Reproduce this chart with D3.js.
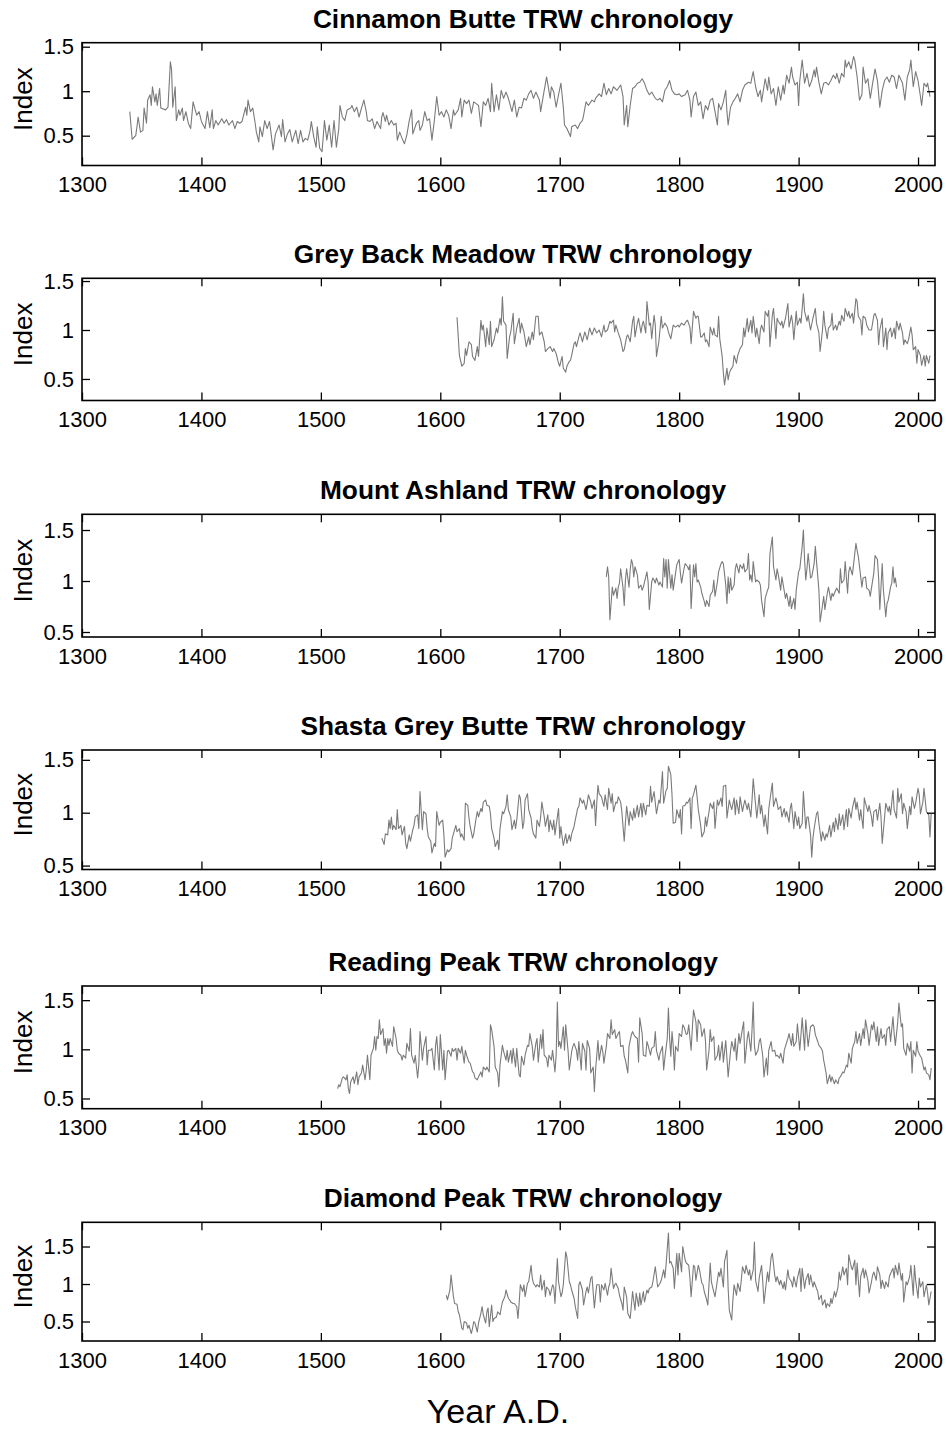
<!DOCTYPE html>
<html><head><meta charset="utf-8">
<script src="https://cdn.jsdelivr.net/npm/d3@7"></script>
<style>body{margin:0;background:#fff}svg{display:block}text{font-family:"Liberation Sans",Arial,Helvetica,sans-serif}</style>
</head><body>
<script>
const xTicks = [1300,1400,1500,1600,1700,1800,1900,2000];
const yTicks = [0.5,1,1.5];
const titles = ["Cinnamon Butte TRW chronology","Grey Back Meadow TRW chronology","Mount Ashland TRW chronology","Shasta Grey Butte TRW chronology","Reading Peak TRW chronology","Diamond Peak TRW chronology"];
const yLabel = "Index";
const xLabel = "Year A.D.";

const cinnamonButte = [[1340,.77],[1342,.46],[1345,.50],[1346,.60],[1347,.71],[1349,.54],[1351,.56],[1352,.81],[1354,.64],[1355,.90],[1357,.96],[1358,.84],[1359,1.05],[1361,.88],[1362,.97],[1363,.84],[1365,1.03],[1366,.81],[1370,.79],[1372,.82],[1374,1.33],[1375,1.24],[1376,.82],[1378,1.05],[1379,.67],[1381,.79],[1382,.73],[1384,.81],[1385,.67],[1387,.77],[1389,.64],[1391,.58],[1393,.88],[1396,.73],[1398,.77],[1400,.66],[1403,.58],[1405,.77],[1407,.59],[1409,.79],[1410,.58],[1412,.67],[1414,.62],[1417,.69],[1419,.64],[1421,.68],[1423,.62],[1426,.67],[1428,.58],[1430,.66],[1432,.64],[1434,.66],[1437,.82],[1438,.73],[1439,.90],[1441,.77],[1443,.81],[1445,.64],[1446,.54],[1448,.43],[1449,.60],[1451,.49],[1453,.67],[1455,.58],[1457,.66],[1458,.56],[1460,.34],[1462,.52],[1465,.62],[1467,.49],[1468,.68],[1470,.43],[1472,.52],[1474,.57],[1476,.43],[1479,.56],[1481,.41],[1483,.56],[1485,.43],[1487,.47],[1489,.45],[1491,.56],[1492,.66],[1494,.49],[1496,.37],[1497,.60],[1499,.36],[1501,.32],[1503,.67],[1505,.45],[1507,.62],[1509,.37],[1511,.67],[1513,.37],[1515,.58],[1516,.84],[1518,.71],[1520,.67],[1522,.79],[1525,.81],[1526,.84],[1528,.77],[1530,.82],[1532,.71],[1534,.81],[1536,.90],[1538,.77],[1539,.67],[1541,.66],[1543,.69],[1545,.58],[1547,.66],[1550,.58],[1551,.71],[1552,.76],[1554,.66],[1555,.73],[1557,.62],[1559,.67],[1561,.62],[1563,.64],[1564,.45],[1566,.54],[1568,.47],[1570,.41],[1572,.51],[1574,.67],[1576,.79],[1577,.52],[1580,.64],[1582,.67],[1583,.56],[1585,.62],[1587,.77],[1589,.67],[1591,.69],[1593,.45],[1595,.67],[1597,.94],[1599,.73],[1601,.77],[1603,.71],[1605,.79],[1607,.73],[1609,.58],[1611,.79],[1612,.73],[1615,.79],[1617,.92],[1618,.71],[1620,.90],[1622,.86],[1624,.90],[1626,.75],[1628,.88],[1630,.86],[1632,.84],[1634,.60],[1636,.88],[1638,.84],[1640,.92],[1642,.77],[1643,1.09],[1645,.77],[1647,.96],[1649,.79],[1651,1.01],[1653,.92],[1655,.99],[1657,.92],[1660,.77],[1662,.90],[1664,.71],[1666,.82],[1668,.81],[1670,.92],[1672,.90],[1674,.97],[1676,1.01],[1678,.92],[1680,.99],[1683,.90],[1684,.77],[1687,1.01],[1689,1.16],[1692,.92],[1693,1.05],[1695,.99],[1697,.82],[1699,.96],[1701,1.09],[1703,.82],[1704,.62],[1706,.58],[1709,.49],[1710,.60],[1713,.62],[1715,.58],[1717,.64],[1719,.67],[1720,.73],[1722,.88],[1724,.84],[1727,.90],[1729,.88],[1730,.92],[1733,.97],[1735,.94],[1737,1.09],[1739,.96],[1741,1.03],[1743,.97],[1745,1.05],[1748,1.01],[1751,1.07],[1753,.94],[1754,.62],[1756,.84],[1757,.60],[1759,.84],[1761,1.03],[1763,1.05],[1765,1.09],[1767,1.10],[1769,1.14],[1771,1.09],[1773,1.01],[1775,.96],[1777,.99],[1780,.92],[1782,.90],[1784,.92],[1786,.88],[1788,1.01],[1790,1.05],[1792,1.12],[1794,1.01],[1796,.97],[1798,.96],[1800,.97],[1802,.94],[1805,.96],[1807,1.01],[1809,.90],[1810,.71],[1812,.94],[1814,.99],[1816,.84],[1818,.88],[1820,.69],[1822,.84],[1824,.79],[1826,.90],[1828,.92],[1830,.77],[1832,.62],[1833,.86],[1835,.79],[1837,.88],[1839,1.01],[1840,.77],[1841,.62],[1843,.82],[1845,.88],[1847,.92],[1849,.97],[1851,.88],[1853,1.01],[1855,1.07],[1858,1.10],[1860,1.09],[1861,1.16],[1862,1.22],[1864,1.05],[1866,.94],[1868,1.01],[1869,.88],[1872,1.14],[1874,1.01],[1875,1.16],[1877,.97],[1879,1.03],[1881,.84],[1883,1.05],[1885,.90],[1887,1.07],[1888,.97],[1890,1.18],[1892,1.09],[1894,1.27],[1895,1.16],[1897,1.07],[1899,1.10],[1900,.84],[1901,1.12],[1903,1.35],[1905,1.09],[1907,1.20],[1909,1.05],[1911,1.12],[1913,1.24],[1914,1.16],[1915,1.27],[1917,1.10],[1919,.97],[1921,1.09],[1923,1.10],[1925,1.07],[1927,1.12],[1929,1.18],[1931,1.14],[1932,1.20],[1934,1.09],[1936,1.20],[1938,1.16],[1939,1.35],[1940,1.27],[1942,1.33],[1944,1.25],[1946,1.39],[1947,1.35],[1949,1.16],[1951,.90],[1953,.96],[1954,1.27],[1956,1.09],[1958,1.14],[1960,.92],[1962,1.09],[1964,1.25],[1966,1.12],[1968,.82],[1970,1.01],[1972,1.12],[1974,1.16],[1976,1.10],[1978,1.18],[1980,1.16],[1982,1.03],[1984,1.18],[1987,1.09],[1989,.90],[1991,1.16],[1993,1.24],[1994,1.35],[1996,1.05],[1998,1.22],[2000,1.12],[2002,.94],[2003,.84],[2005,1.09],[2007,1.05],[2008,1.09],[2010,.94]];

const greyBackMeadow = [[1614,1.13],[1616,.74],[1618,.63],[1620,.66],[1621,.81],[1622,.74],[1624,.88],[1626,.85],[1627,.73],[1629,.69],[1631,.83],[1632,.73],[1634,1.10],[1635,1.00],[1636,1.05],[1638,.83],[1639,1.02],[1641,.85],[1642,1.09],[1643,.83],[1645,.90],[1647,1.02],[1648,.97],[1650,1.12],[1651,1.05],[1652,1.34],[1653,1.09],[1655,1.05],[1656,.71],[1658,.93],[1659,.98],[1661,1.17],[1662,.86],[1664,1.02],[1666,1.12],[1667,.97],[1668,1.07],[1670,.98],[1672,.83],[1674,.93],[1675,.85],[1677,.98],[1678,.90],[1680,1.14],[1682,1.14],[1683,.95],[1685,.98],[1687,.88],[1688,.78],[1690,.81],[1692,.83],[1694,.78],[1695,.81],[1697,.76],[1699,.66],[1700,.63],[1702,.73],[1703,.61],[1705,.57],[1706,.63],[1708,.68],[1709,.69],[1710,.74],[1712,.86],[1713,.88],[1714,.83],[1716,.93],[1717,.97],[1719,.88],[1720,.93],[1721,.98],[1723,.90],[1725,1.02],[1727,.95],[1729,1.02],[1731,.97],[1733,1.00],[1735,.93],[1737,1.05],[1738,.98],[1740,1.00],[1742,1.09],[1743,1.07],[1745,1.10],[1746,.98],[1747,1.05],[1749,.97],[1751,.90],[1753,.78],[1754,.80],[1756,.93],[1757,.95],[1759,.88],[1761,1.09],[1762,1.14],[1763,.93],[1765,1.07],[1766,1.12],[1768,.97],[1769,1.05],[1770,1.09],[1772,.97],[1773,1.29],[1775,1.05],[1776,1.07],[1777,.91],[1779,1.15],[1780,1.05],[1781,.73],[1783,.88],[1785,1.14],[1786,1.02],[1788,1.07],[1790,1.03],[1791,.98],[1793,.91],[1795,1.05],[1797,1.03],[1799,1.05],[1800,1.03],[1802,1.07],[1804,1.05],[1806,1.09],[1807,1.10],[1809,1.03],[1810,.86],[1812,1.19],[1814,1.12],[1815,1.14],[1816,1.14],[1818,.93],[1819,.93],[1821,.97],[1822,.88],[1823,.90],[1825,.83],[1826,1.03],[1828,.95],[1829,1.02],[1830,.95],[1832,.93],[1833,1.14],[1834,.91],[1836,.73],[1837,.56],[1838,.44],[1840,.61],[1841,.49],[1842,.56],[1843,.59],[1845,.63],[1846,.74],[1848,.66],[1849,.74],[1851,.81],[1853,.85],[1854,1.02],[1855,.93],[1857,1.12],[1858,.98],[1860,1.10],[1861,.97],[1862,1.14],[1864,.93],[1865,1.02],[1867,.86],[1868,1.00],[1869,1.05],[1871,.98],[1872,1.19],[1874,1.14],[1875,1.20],[1876,.83],[1878,1.15],[1879,1.22],[1881,.91],[1882,1.12],[1883,1.09],[1885,1.05],[1886,1.09],[1887,1.02],[1889,1.12],[1891,1.27],[1892,1.03],[1894,1.15],[1895,1.07],[1896,.90],[1898,1.19],[1899,1.05],[1901,1.12],[1902,1.07],[1904,1.37],[1905,1.19],[1907,1.09],[1908,1.15],[1909,1.07],[1910,1.00],[1912,1.12],[1914,1.22],[1915,1.07],[1917,.97],[1918,.78],[1920,1.00],[1921,1.19],[1922,1.05],[1924,.91],[1925,1.02],[1927,1.05],[1928,1.17],[1929,1.00],[1931,1.05],[1932,1.00],[1934,1.09],[1935,1.05],[1936,1.15],[1938,1.09],[1939,1.22],[1941,1.14],[1942,1.19],[1943,1.12],[1945,1.17],[1946,1.07],[1948,1.32],[1949,1.29],[1950,1.14],[1952,1.10],[1953,.95],[1954,1.14],[1956,1.12],[1957,1.05],[1959,1.00],[1960,1.00],[1961,1.00],[1963,1.15],[1964,1.17],[1966,1.10],[1967,.85],[1968,1.00],[1970,1.12],[1971,.83],[1973,1.02],[1974,.80],[1975,.97],[1977,1.02],[1978,.93],[1980,1.02],[1981,.91],[1982,1.09],[1984,1.00],[1985,1.07],[1987,.97],[1988,.85],[1989,.90],[1991,.86],[1992,.90],[1994,1.03],[1995,.95],[1996,.80],[1998,.83],[1999,.66],[2000,.80],[2002,.74],[2003,.64],[2005,.74],[2006,.63],[2007,.74],[2009,.66],[2010,.74]];

const mountAshland = [[1739,1.04],[1740,1.14],[1741,1.04],[1742,.62],[1744,.94],[1745,.86],[1747,.93],[1748,.83],[1749,.94],[1750,.98],[1751,1.12],[1753,.93],[1754,.76],[1755,1.01],[1756,1.12],[1758,.94],[1759,1.11],[1760,1.21],[1761,1.17],[1762,1.04],[1763,1.14],[1765,1.06],[1766,.93],[1768,.96],[1769,.91],[1770,.94],[1772,1.04],[1773,1.09],[1774,.99],[1775,.72],[1777,.99],[1778,1.03],[1779,1.01],[1780,.98],[1781,1.03],[1783,.96],[1784,.99],[1786,.94],[1787,1.22],[1788,1.04],[1789,1.21],[1790,.93],[1791,1.21],[1793,.93],[1794,1.06],[1795,.91],[1797,1.08],[1798,1.16],[1800,1.21],[1801,1.08],[1802,.98],[1804,1.12],[1805,1.17],[1807,1.14],[1808,1.11],[1809,1.16],[1810,.73],[1812,1.16],[1813,1.04],[1814,1.17],[1815,.99],[1816,1.01],[1818,.94],[1819,.88],[1821,.80],[1822,.75],[1823,.81],[1825,.75],[1826,.86],[1828,.90],[1829,1.01],[1830,.85],[1832,.99],[1833,1.09],[1835,1.17],[1836,1.19],[1837,1.17],[1839,.96],[1840,.78],[1841,1.04],[1842,.88],[1843,1.03],[1844,.91],[1846,.96],[1847,1.12],[1848,1.17],[1850,1.08],[1851,1.16],[1853,1.12],[1854,1.17],[1855,1.09],[1857,1.12],[1858,1.27],[1859,1.01],[1860,1.06],[1861,.99],[1862,1.19],[1864,.99],[1865,1.01],[1867,.99],[1868,.96],[1869,.81],[1871,.65],[1872,.83],[1874,.91],[1875,.94],[1876,1.27],[1878,1.43],[1879,1.14],[1881,1.01],[1882,1.12],[1883,1.06],[1885,.91],[1886,1.04],[1888,.90],[1889,.83],[1890,.88],[1892,.75],[1893,.85],[1894,.73],[1896,.83],[1897,.72],[1898,.91],[1900,1.09],[1901,1.12],[1903,1.34],[1904,1.50],[1905,1.21],[1906,1.01],[1907,1.12],[1908,1.27],[1910,1.03],[1911,1.04],[1913,1.17],[1914,1.34],[1915,1.19],[1917,.91],[1918,.60],[1920,.76],[1921,.85],[1922,.72],[1924,.88],[1925,.94],[1927,.81],[1928,.88],[1929,.85],[1931,.91],[1932,.93],[1934,.88],[1935,1.12],[1936,.98],[1938,1.01],[1939,1.19],[1941,.88],[1942,1.09],[1943,1.14],[1945,1.06],[1946,1.16],[1948,1.37],[1949,1.30],[1950,1.24],[1952,1.04],[1953,.94],[1954,1.03],[1956,1.04],[1957,.93],[1959,.91],[1960,.85],[1961,.93],[1963,1.08],[1964,1.25],[1966,1.21],[1967,1.03],[1968,.72],[1970,1.17],[1971,.91],[1973,.65],[1974,.78],[1975,.81],[1977,.94],[1978,.98],[1979,1.14],[1980,.98],[1981,1.03],[1982,.94]];

const shastaGreyButte = [[1551,.76],[1553,.70],[1554,.80],[1556,.79],[1557,.93],[1558,.85],[1559,.96],[1560,.84],[1561,.88],[1563,.84],[1564,1.03],[1565,.85],[1567,.88],[1568,.79],[1570,.87],[1571,.71],[1572,.66],[1574,.79],[1575,.73],[1577,.84],[1578,.88],[1579,.96],[1581,.98],[1582,.85],[1583,1.20],[1585,.84],[1586,1.01],[1588,.99],[1589,.85],[1590,.77],[1592,.73],[1593,.62],[1595,.71],[1596,.68],[1597,1.01],[1599,.88],[1600,.91],[1602,.93],[1603,.79],[1604,.58],[1606,.65],[1607,.63],[1609,.66],[1610,.76],[1611,.80],[1613,.88],[1614,.82],[1616,.85],[1617,.77],[1618,.80],[1620,.74],[1621,1.09],[1623,1.07],[1624,.95],[1625,.87],[1627,.76],[1628,.80],[1630,.95],[1631,1.01],[1632,.96],[1634,1.04],[1635,1.01],[1636,1.10],[1638,1.12],[1639,1.07],[1641,1.06],[1642,.99],[1643,.85],[1645,.76],[1646,.68],[1648,.74],[1649,.65],[1650,.85],[1652,1.01],[1653,.99],[1655,1.06],[1656,1.17],[1657,1.03],[1659,.96],[1660,.84],[1662,.93],[1663,.85],[1664,.93],[1666,1.17],[1667,1.14],[1669,.85],[1670,.91],[1671,1.12],[1673,1.18],[1674,1.03],[1676,.95],[1677,.85],[1678,.80],[1680,.76],[1681,.93],[1683,.87],[1684,.96],[1685,1.10],[1687,.96],[1688,.87],[1690,.98],[1691,.82],[1692,.93],[1694,.84],[1695,.93],[1696,.79],[1698,.96],[1699,1.04],[1700,.76],[1701,.87],[1702,.77],[1703,.69],[1705,.80],[1706,.71],[1708,.79],[1709,.73],[1710,.80],[1712,.87],[1713,.93],[1715,1.04],[1716,1.06],[1717,1.14],[1719,1.09],[1720,1.12],[1722,1.03],[1723,1.09],[1724,1.17],[1726,1.10],[1727,1.04],[1729,1.12],[1730,.88],[1731,1.09],[1732,1.26],[1733,1.18],[1735,1.15],[1736,1.10],[1737,1.06],[1738,1.17],[1740,1.03],[1741,1.23],[1743,1.09],[1744,1.18],[1745,1.01],[1747,1.10],[1748,1.09],[1749,1.15],[1751,1.10],[1752,1.01],[1754,.73],[1755,.91],[1756,1.06],[1758,.88],[1759,1.01],[1761,.93],[1762,1.04],[1763,.95],[1765,1.07],[1766,.96],[1768,1.09],[1769,.96],[1770,1.09],[1772,.98],[1773,1.07],[1775,1.06],[1776,1.25],[1777,1.10],[1779,1.20],[1781,.99],[1783,1.12],[1784,1.09],[1786,1.39],[1787,1.09],[1789,1.21],[1790,1.23],[1791,1.44],[1793,1.36],[1794,1.17],[1795,.90],[1797,.91],[1798,1.03],[1800,.95],[1801,1.03],[1802,.80],[1803,1.06],[1805,1.07],[1806,1.10],[1807,1.09],[1809,1.14],[1810,.85],[1811,1.14],[1812,1.17],[1814,1.26],[1815,1.15],[1816,1.03],[1818,.88],[1819,.77],[1821,.82],[1822,.96],[1823,.87],[1825,1.01],[1826,1.09],[1828,1.04],[1829,1.10],[1830,.85],[1832,1.12],[1833,1.07],[1835,1.14],[1836,1.06],[1837,1.25],[1839,1.26],[1840,.95],[1842,1.12],[1843,1.07],[1844,1.03],[1846,1.14],[1847,.98],[1848,1.12],[1850,.99],[1851,1.15],[1853,1.01],[1854,1.07],[1855,1.12],[1857,1.03],[1858,1.09],[1860,.96],[1861,1.12],[1862,1.32],[1864,1.07],[1865,.95],[1867,1.17],[1868,.99],[1869,1.07],[1871,.87],[1872,.98],[1874,.80],[1875,1.03],[1876,1.12],[1878,1.28],[1879,1.06],[1881,1.14],[1882,1.09],[1883,1.03],[1885,1.06],[1886,.96],[1888,1.04],[1889,.96],[1890,1.01],[1892,.91],[1893,1.04],[1894,1.09],[1896,.85],[1897,1.01],[1899,.88],[1900,.96],[1901,.85],[1903,.90],[1904,1.20],[1906,.85],[1907,.96],[1908,.96],[1910,.79],[1911,.58],[1912,.76],[1913,.85],[1915,.99],[1916,1.01],[1917,.90],[1919,.73],[1920,.82],[1922,.74],[1923,.80],[1924,.77],[1926,.88],[1927,.77],[1929,.91],[1930,.82],[1931,.95],[1933,.84],[1934,.99],[1935,.88],[1937,.98],[1938,.84],[1940,1.03],[1941,.87],[1942,1.04],[1944,.95],[1945,1.04],[1947,1.14],[1948,1.03],[1949,1.10],[1951,.93],[1952,1.03],[1954,.85],[1955,1.14],[1956,1.09],[1958,1.01],[1959,1.07],[1961,.96],[1962,.87],[1963,1.01],[1965,1.03],[1966,.93],[1968,1.09],[1969,.96],[1970,.71],[1972,.96],[1973,1.09],[1975,1.01],[1976,1.06],[1977,.98],[1979,1.21],[1980,1.03],[1982,.95],[1983,1.23],[1984,1.10],[1986,1.18],[1987,.99],[1988,1.09],[1990,1.01],[1991,.85],[1993,1.06],[1994,.98],[1995,1.15],[1997,1.04],[1998,1.09],[2000,1.23],[2001,1.17],[2002,.99],[2004,1.10],[2005,1.23],[2006,1.12],[2007,1.01],[2009,.98],[2010,.77],[2011,.99]];

const readingPeak = [[1514,.60],[1515,.64],[1516,.62],[1518,.71],[1519,.72],[1521,.69],[1522,.74],[1523,.60],[1524,.55],[1525,.67],[1527,.72],[1528,.65],[1530,.77],[1531,.64],[1532,.72],[1534,.76],[1535,.84],[1537,.69],[1538,.79],[1539,.94],[1541,.69],[1542,.94],[1544,1.01],[1545,1.13],[1546,.99],[1547,1.13],[1548,1.11],[1549,1.30],[1550,1.15],[1552,1.21],[1553,1.04],[1554,1.11],[1555,.96],[1556,1.11],[1557,1.04],[1558,1.11],[1560,1.03],[1561,1.23],[1563,1.11],[1564,.99],[1565,.96],[1567,.94],[1568,.89],[1569,.94],[1571,.91],[1572,1.06],[1574,.98],[1575,1.21],[1576,.94],[1578,.86],[1579,.94],[1581,.71],[1582,.84],[1583,1.18],[1585,.89],[1586,1.01],[1588,1.13],[1589,.84],[1590,.99],[1592,.99],[1593,1.01],[1595,.79],[1596,1.03],[1597,1.13],[1599,.79],[1600,1.15],[1602,.79],[1603,.99],[1604,.69],[1606,.98],[1607,.99],[1609,.93],[1610,1.01],[1611,.98],[1613,1.01],[1614,.89],[1615,1.01],[1617,.96],[1618,1.03],[1620,.86],[1621,.99],[1622,.94],[1624,.87],[1625,.86],[1627,.77],[1628,.76],[1629,.71],[1631,.69],[1632,.72],[1634,.77],[1635,.72],[1636,.82],[1638,.79],[1639,.82],[1641,.77],[1642,1.25],[1643,1.20],[1645,1.03],[1646,.82],[1648,.76],[1649,.62],[1650,.84],[1652,1.04],[1653,.98],[1655,.89],[1656,.99],[1657,.87],[1659,.99],[1660,.86],[1661,1.01],[1663,.82],[1664,1.01],[1666,.74],[1667,.72],[1668,.93],[1670,.84],[1671,.94],[1673,1.04],[1674,1.03],[1675,1.16],[1677,1.03],[1678,.89],[1680,1.06],[1681,1.11],[1682,.87],[1684,1.15],[1685,1.01],[1686,1.20],[1687,.94],[1689,.91],[1690,.82],[1691,.94],[1693,.89],[1694,.99],[1696,.77],[1697,.94],[1698,1.48],[1699,1.03],[1700,1.08],[1701,1.01],[1703,1.23],[1704,.99],[1705,1.25],[1707,.98],[1708,.79],[1710,.98],[1711,1.03],[1712,1.06],[1714,.99],[1715,.89],[1716,1.08],[1718,.79],[1719,1.06],[1721,.98],[1722,.79],[1723,1.09],[1725,1.01],[1726,.76],[1728,.82],[1729,.57],[1730,.79],[1732,1.09],[1733,.89],[1735,1.04],[1736,.98],[1737,.86],[1739,1.03],[1740,1.16],[1742,1.11],[1743,1.30],[1744,1.15],[1746,1.20],[1747,1.11],[1749,1.16],[1750,1.18],[1751,1.03],[1753,1.04],[1754,.93],[1755,.89],[1757,.76],[1758,1.03],[1760,1.15],[1761,1.18],[1762,1.15],[1763,1.13],[1765,1.11],[1766,.87],[1767,1.32],[1769,1.16],[1770,.94],[1772,.93],[1773,1.08],[1774,1.04],[1776,.94],[1777,1.01],[1779,1.03],[1780,1.18],[1781,.99],[1783,.89],[1784,.96],[1786,1.03],[1787,.79],[1788,.91],[1790,1.11],[1791,1.42],[1792,1.11],[1793,.93],[1794,1.18],[1795,1.04],[1796,.79],[1797,1.03],[1799,.98],[1800,1.16],[1802,1.13],[1803,1.25],[1804,1.23],[1806,1.15],[1807,1.16],[1808,1.25],[1810,.99],[1811,1.21],[1812,1.40],[1814,1.28],[1815,1.08],[1816,1.30],[1818,1.25],[1819,1.13],[1821,1.21],[1822,1.09],[1823,.79],[1825,.99],[1826,1.20],[1827,1.08],[1829,1.13],[1830,.89],[1832,.94],[1833,1.04],[1834,.89],[1836,1.08],[1837,.87],[1839,1.09],[1840,.91],[1841,.72],[1843,.98],[1844,1.08],[1846,.98],[1847,1.11],[1848,.89],[1850,1.16],[1851,1.06],[1853,1.21],[1854,1.28],[1855,.86],[1857,1.11],[1858,1.18],[1860,.98],[1861,1.20],[1862,1.48],[1863,1.04],[1864,.94],[1866,.99],[1867,1.08],[1868,1.11],[1870,.93],[1871,.72],[1873,.91],[1874,.74],[1875,.99],[1877,1.08],[1878,.98],[1880,.99],[1881,.93],[1882,.94],[1884,.91],[1885,.96],[1887,.86],[1888,.99],[1889,1.03],[1891,1.11],[1892,1.16],[1894,1.04],[1895,1.16],[1896,1.03],[1898,1.08],[1899,1.26],[1901,.99],[1902,1.15],[1903,1.32],[1905,.99],[1906,1.30],[1908,1.03],[1909,1.13],[1910,1.23],[1912,1.25],[1913,1.23],[1914,1.15],[1916,1.08],[1917,1.04],[1919,1.01],[1920,.98],[1921,.89],[1923,.76],[1924,.65],[1926,.74],[1927,.67],[1928,.72],[1930,.65],[1931,.69],[1933,.65],[1934,.71],[1935,.72],[1937,.77],[1938,.76],[1940,.84],[1941,.82],[1942,.96],[1944,.86],[1945,1.01],[1947,1.08],[1948,1.18],[1949,1.06],[1951,1.16],[1952,1.04],[1954,1.21],[1955,1.11],[1956,1.30],[1958,1.16],[1959,1.04],[1961,1.25],[1962,1.20],[1963,1.28],[1965,1.08],[1966,1.23],[1967,1.04],[1969,1.21],[1970,1.11],[1972,1.15],[1973,1.04],[1974,1.20],[1976,1.23],[1977,1.08],[1979,1.33],[1980,1.16],[1981,1.04],[1983,1.28],[1984,1.47],[1986,1.23],[1987,1.26],[1988,1.01],[1990,.94],[1991,1.06],[1993,.98],[1994,1.08],[1995,.76],[1996,.99],[1998,.93],[1999,1.08],[2000,.98],[2002,.93],[2003,.91],[2005,.79],[2006,.82],[2007,.76],[2009,.74],[2010,.69],[2011,.81]];

const diamondPeak = [[1605,.85],[1606,.79],[1608,.92],[1609,1.12],[1611,.83],[1612,.74],[1614,.73],[1615,.63],[1616,.59],[1618,.41],[1619,.39],[1620,.50],[1622,.48],[1623,.41],[1624,.45],[1626,.34],[1627,.41],[1628,.50],[1629,.48],[1631,.36],[1632,.48],[1634,.61],[1635,.70],[1636,.59],[1638,.48],[1639,.63],[1640,.68],[1641,.43],[1643,.72],[1644,.50],[1645,.54],[1647,.56],[1648,.63],[1650,.59],[1651,.68],[1652,.76],[1654,.83],[1655,.92],[1657,.81],[1658,.79],[1659,.76],[1661,.74],[1662,.74],[1664,.70],[1665,.54],[1666,.74],[1667,.99],[1669,.90],[1670,.99],[1671,.83],[1673,1.01],[1674,1.03],[1676,1.25],[1677,1.08],[1678,1.01],[1680,.96],[1681,.99],[1683,.96],[1684,1.12],[1685,.92],[1687,1.05],[1688,.83],[1689,.96],[1691,.92],[1692,.85],[1694,.99],[1695,.96],[1696,.74],[1698,1.34],[1699,1.03],[1701,.83],[1702,.88],[1703,.99],[1705,1.43],[1706,1.36],[1708,1.03],[1709,.99],[1710,.92],[1712,.81],[1713,.70],[1715,.54],[1716,.99],[1717,1.03],[1719,.92],[1720,.72],[1722,.90],[1723,.96],[1724,.88],[1726,1.08],[1727,1.10],[1729,.68],[1730,.85],[1731,.99],[1733,.99],[1734,.76],[1735,.99],[1737,.92],[1738,1.01],[1740,.85],[1741,.96],[1742,1.01],[1743,1.21],[1745,.94],[1746,.99],[1747,1.01],[1749,.94],[1750,.85],[1752,.74],[1753,.65],[1754,.96],[1756,.83],[1757,.61],[1759,.54],[1760,.72],[1761,.90],[1763,.65],[1764,.88],[1766,.70],[1767,.88],[1768,.72],[1770,.90],[1771,.76],[1773,.92],[1774,.88],[1775,.94],[1777,.96],[1778,1.03],[1780,1.23],[1781,1.10],[1782,.96],[1784,1.01],[1785,1.05],[1787,1.19],[1788,1.08],[1789,1.25],[1791,1.68],[1792,1.28],[1793,1.30],[1795,1.21],[1796,.94],[1798,1.41],[1799,1.12],[1800,1.41],[1802,1.16],[1803,1.50],[1805,1.32],[1806,1.28],[1808,1.25],[1809,1.08],[1810,.83],[1812,1.25],[1813,1.23],[1814,1.05],[1816,1.25],[1817,1.19],[1819,1.01],[1820,.99],[1821,.90],[1823,.79],[1824,.72],[1826,1.28],[1827,1.03],[1828,.96],[1830,.83],[1831,.94],[1833,1.16],[1834,1.10],[1835,1.21],[1837,.96],[1838,1.30],[1840,1.45],[1841,.94],[1842,.65],[1844,.52],[1845,.79],[1846,.99],[1848,.85],[1849,1.01],[1851,.90],[1852,1.05],[1853,1.23],[1855,1.14],[1856,1.25],[1858,1.12],[1859,1.19],[1860,1.05],[1862,1.19],[1863,1.56],[1864,1.05],[1866,.90],[1867,1.08],[1869,1.25],[1870,1.03],[1871,.74],[1873,1.03],[1874,1.16],[1875,1.03],[1877,1.36],[1878,1.41],[1880,1.12],[1881,1.03],[1882,1.10],[1884,.99],[1885,1.05],[1887,.94],[1888,1.03],[1889,.92],[1891,1.19],[1892,1.08],[1894,1.03],[1895,.96],[1896,1.10],[1898,.96],[1899,1.08],[1901,1.21],[1902,.90],[1903,1.21],[1905,.94],[1906,1.05],[1908,1.14],[1909,.99],[1910,1.12],[1912,.96],[1913,1.03],[1915,.94],[1916,.90],[1917,.79],[1919,.85],[1920,.72],[1922,.79],[1923,.68],[1924,.74],[1926,.70],[1927,.81],[1928,.74],[1930,.90],[1931,.83],[1933,.96],[1934,1.16],[1935,1.05],[1937,1.23],[1938,1.12],[1940,1.21],[1941,.99],[1942,1.39],[1944,1.23],[1945,1.19],[1947,1.32],[1948,.99],[1949,1.28],[1951,.83],[1952,1.10],[1954,1.21],[1955,1.08],[1956,1.19],[1958,1.05],[1959,.88],[1961,1.03],[1962,1.12],[1963,1.16],[1965,1.05],[1966,1.23],[1968,1.12],[1969,.94],[1970,1.05],[1972,.94],[1973,1.03],[1975,.96],[1976,1.10],[1977,1.14],[1979,1.21],[1980,1.08],[1981,1.25],[1983,1.12],[1984,1.28],[1986,1.05],[1987,1.14],[1988,.76],[1990,1.03],[1991,.99],[1993,1.10],[1994,1.25],[1996,.85],[1997,1.25],[1998,1.05],[2000,.81],[2001,1.08],[2002,.96],[2004,1.03],[2005,.83],[2007,.99],[2008,.88],[2009,.72],[2011,.90]];

const series = [cinnamonButte, greyBackMeadow, mountAshland, shastaGreyButte, readingPeak, diamondPeak];

// layout
const W = 946, H = 1451;
const left = 82, right = 935;
const xDomain = [1300, 2014.2];
const panels = [
  {top: 42.7, bottom: 165.5, yDomain: [0.165, 1.545]},
  {top: 278.3, bottom: 400.5, yDomain: [0.28, 1.528]},
  {top: 514.3, bottom: 637, yDomain: [0.451, 1.654]},
  {top: 750, bottom: 869.5, yDomain: [0.463, 1.593]},
  {top: 986, bottom: 1108.7, yDomain: [0.396, 1.644]},
  {top: 1222.3, bottom: 1341, yDomain: [0.24, 1.823]}
];

const svg = d3.select("body").append("svg").attr("width", W).attr("height", H);
const x = d3.scaleLinear().domain(xDomain).range([left, right]);
const tickLen = 8;

panels.forEach((p, i) => {
  const y = d3.scaleLinear().domain(p.yDomain).range([p.bottom, p.top]);
  const g = svg.append("g");

  const line = d3.line().x(d => x(d[0])).y(d => y(d[1]));
  g.append("path").datum(series[i]).attr("d", line)
    .attr("fill", "none").attr("stroke", "#7a7a7a").attr("stroke-width", 1.1)
    .attr("stroke-linejoin", "round");

  const axB = g.append("g").attr("transform", `translate(0,${p.bottom})`)
    .call(d3.axisBottom(x).tickValues(xTicks).tickFormat(d3.format("d")).tickSizeInner(-tickLen).tickSizeOuter(0).tickPadding(11));
  const axT = g.append("g").attr("transform", `translate(0,${p.top})`)
    .call(d3.axisTop(x).tickValues(xTicks).tickFormat("").tickSizeInner(-tickLen).tickSizeOuter(0));
  const axL = g.append("g").attr("transform", `translate(${left},0)`)
    .call(d3.axisLeft(y).tickValues(yTicks).tickFormat(d => d === 1 ? "1" : d3.format(".1f")(d)).tickSizeInner(-tickLen).tickSizeOuter(0).tickPadding(8));
  const axR = g.append("g").attr("transform", `translate(${right},0)`)
    .call(d3.axisRight(y).tickValues(yTicks).tickFormat("").tickSizeInner(-tickLen).tickSizeOuter(0));
  [axB, axT, axL, axR].forEach(a => {
    a.select(".domain").remove();
    a.selectAll("line").attr("stroke", "#000").attr("stroke-width", 1.3);
    a.selectAll("text").attr("fill", "#000").attr("font-size", 22).attr("font-family", '"Liberation Sans", Arial, sans-serif');
  });
  axB.selectAll("text").attr("dy", "0.71em");

  g.append("rect").attr("x", left).attr("y", p.top).attr("width", right - left).attr("height", p.bottom - p.top)
    .attr("fill", "none").attr("stroke", "#000").attr("stroke-width", 1.6);

  g.append("text").attr("x", 523).attr("y", p.top - 15)
    .attr("text-anchor", "middle").attr("font-weight", "bold").attr("font-size", 26.3)
    .text(titles[i]);

  g.append("text").attr("transform", `translate(32,${(p.top + p.bottom) / 2 - 5}) rotate(-90)`)
    .attr("text-anchor", "middle").attr("font-size", 26).text(yLabel);
});

svg.append("text").attr("x", 498).attr("y", 1423).attr("text-anchor", "middle")
  .attr("font-size", 34).text(xLabel);
</script>
</body></html>
